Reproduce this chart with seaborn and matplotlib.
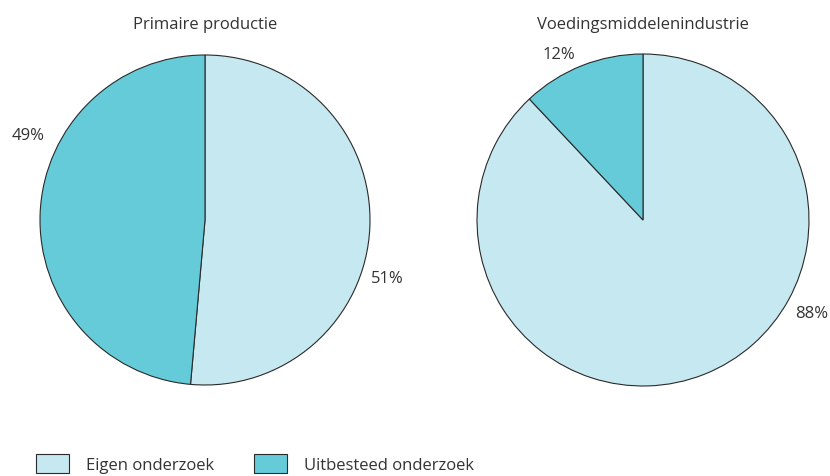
import matplotlib
matplotlib.use("Agg")
import matplotlib.pyplot as plt
import seaborn as sns
import numpy as np

# data
titels = ["Primaire productie", "Voedingsmiddelenindustrie"]
categorieen = ["Eigen onderzoek", "Uitbesteed onderzoek"]
primair = [51.4, 48.6]
voeding = [88, 12]

sns.set_theme(style="white")
plt.rcParams['font.family'] = ['Open Sans', 'DejaVu Sans']
kleuren = ["#c6e8f0", "#66cbd9"]
tekstkleur = "#333333"

fig = plt.figure(figsize=(8.3, 4.77), dpi=100)
ax1 = fig.add_axes([40/830, 91/477, 330/830, 330/477])
ax2 = fig.add_axes([477/830, 90/477, 332/830, 332/477])

# label angles (deg) and distances (fraction of radius)
label_pos = [[(-17.6, 1.16), (154.5, 1.19)], [(-28.8, 1.16), (117, 1.12)]]

for ax, titel, waarden, pos in zip([ax1, ax2], titels, [primair, voeding], label_pos):
    wedges, _ = ax.pie(waarden, colors=kleuren, startangle=90, counterclock=False,
                       wedgeprops=dict(edgecolor="#2a2a2a", linewidth=0.8))
    for w, (hoek, r) in zip(waarden, pos):
        a = np.deg2rad(hoek)
        ax.text(r*np.cos(a), r*np.sin(a), f"{w:.0f}%", ha="center", va="center",
                fontsize=12, color=tekstkleur)
    ax.set_xlim(-1, 1)
    ax.set_ylim(-1, 1)
    ax.set_aspect("equal")
    ax.set_axis_off()

fig.text(205/830, 1 - 25/477, titels[0], ha="center", va="center", fontsize=12, color=tekstkleur)
fig.text(643/830, 1 - 25/477, titels[1], ha="center", va="center", fontsize=12, color=tekstkleur)

fig.legend(wedges, categorieen, loc="lower left", bbox_to_anchor=(21/830, -12/477),
           ncol=2, frameon=False, fontsize=12, handlelength=2.0, handleheight=1.3,
           columnspacing=2.4, handletextpad=1.0, labelcolor=tekstkleur)

fig.savefig("out.png", dpi=100)
